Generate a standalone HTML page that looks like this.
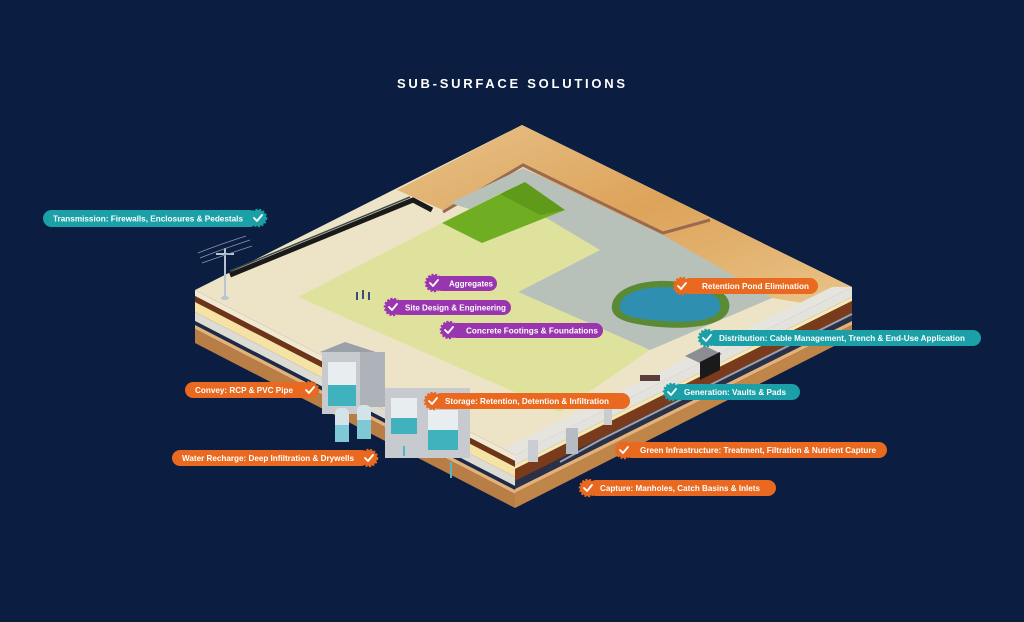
<!DOCTYPE html>
<html><head><meta charset="utf-8"><style>
html,body{margin:0;padding:0;background:#0b1d40;}
svg{display:block}
text{font-family:"Liberation Sans",Arial,sans-serif;font-weight:bold;fill:#fff}
</style></head><body>
<svg width="1024" height="622" viewBox="0 0 1024 622" xmlns="http://www.w3.org/2000/svg">
<defs>
<linearGradient id="tan" x1="0" y1="0" x2="1" y2="1">
<stop offset="0" stop-color="#e7c28a"/><stop offset="0.5" stop-color="#dda35a"/><stop offset="1" stop-color="#e9c489"/>
</linearGradient>
</defs>
<rect width="1024" height="622" fill="#0b1d40"/>
<text x="512" y="88" text-anchor="middle" font-size="13" letter-spacing="2" fill="#e8ecf4" textLength="230" lengthAdjust="spacing">SUB-SURFACE SOLUTIONS</text>

<!-- left face bands -->
<g>
<polygon points="195,290 515,455 515,461 195,296" fill="#f0e8d0"/>
<polygon points="195,296 515,461 515,467 195,302" fill="#6d3418"/>
<polygon points="195,302 515,467 515,477 195,312" fill="#f5e2a4"/>
<polygon points="195,312 515,477 515,486 195,321" fill="#dcdcd4"/>
<polygon points="195,321 515,486 515,490 195,325" fill="#1c2a48"/>
<polygon points="195,325 515,490 515,494 195,329" fill="#e2b27a"/>
<polygon points="195,329 515,494 515,508 195,343" fill="#b97e45"/>
</g>
<!-- right face bands -->
<g>
<polygon points="515,455 852,287 852,297 515,465" fill="#e4e2dc"/>
<polygon points="515,465 852,297 852,301 515,469" fill="#f6e8b0"/>
<polygon points="515,469 852,301 852,313 515,481" fill="#7a3b1d"/>
<polygon points="515,481 852,313 852,321 515,489" fill="#2a3048"/>
<polygon points="515,489 852,321 852,325 515,493" fill="#e2b27a"/>
<polygon points="515,493 852,325 852,337 515,508" fill="#c08548"/>
</g>
<polyline points="560,462 600,440 640,420 700,390 760,360 852,314" fill="none" stroke="#9aa3ad" stroke-width="2"/>

<!-- top surface -->
<polygon points="195,290 522,125 852,287 515,455" fill="#ede4c8"/>
<polygon points="397,190 522,125 852,287 815,305 772,298 523,167 443,210" fill="url(#tan)"/>
<!-- sidewalk strip right -->
<polygon points="515,455 852,287 832,287 505,448" fill="#e6e4de"/>
<!-- inner rim -->
<polyline points="443,212 523,165 663,233 710,220" fill="none" stroke="#9a6a50" stroke-width="3"/>
<!-- gray region -->
<polygon points="450,203 523,168 663,235 772,298 650,350 518,292 600,250" fill="#b7c1b9"/>
<!-- yellow -->
<polygon points="298,297 442,223 503,192 600,250 518,292 650,350 560,412" fill="#dfe29d"/>
<!-- green -->
<polygon points="442,223 500,194 565,210 482,243" fill="#6fae22"/>
<polygon points="500,194 525,182 565,210 540,215" fill="#5f9a1a"/>
<!-- pond -->
<path d="M612,305 C615,285 650,278 680,282 C715,283 735,295 728,312 C720,328 680,330 650,326 C625,323 610,318 612,305Z" fill="#5a8a36"/>
<path d="M620,305 C622,290 652,285 680,288 C710,289 725,298 719,311 C712,323 680,323 652,320 C630,318 618,314 620,305Z" fill="#2f8fb0"/>
<!-- conduit -->
<polyline points="230,275 413,200 432,210" fill="none" stroke="#1a1a1a" stroke-width="5"/>
<polyline points="230,271 410,197" fill="none" stroke="#3b4b48" stroke-width="1.5"/>
<!-- power pole -->
<line x1="225" y1="248" x2="225" y2="298" stroke="#b9c4d2" stroke-width="2"/>
<line x1="216" y1="254" x2="234" y2="254" stroke="#b9c4d2" stroke-width="2"/>
<path d="M200,258 Q220,250 250,240 M202,263 Q222,256 252,246 M198,253 Q218,245 246,236" stroke="#8897b0" stroke-width="0.8" fill="none"/>
<ellipse cx="225" cy="298" rx="4" ry="2" fill="#b9c4d2"/>
<g fill="#3b4f7a"><rect x="356" y="292" width="2" height="8"/><rect x="362" y="290" width="2" height="9"/><rect x="368" y="292" width="2" height="8"/></g>
<!-- generation objects -->
<polygon points="685,356 705,346 722,354 702,364" fill="#8a8d92"/>
<polygon points="700,362 720,352 720,370 700,380" fill="#1a1a1a"/>
<rect x="640" y="375" width="20" height="6" fill="#5a3e3a"/>

<!-- storage vaults -->
<g>
<polygon points="320,352 345,342 385,355 360,365" fill="#9aa0a8"/>
<rect x="322" y="352" width="38" height="62" fill="#c7cbd0"/>
<rect x="360" y="352" width="25" height="55" fill="#aeb3ba"/>
<rect x="328" y="362" width="28" height="44" fill="#e8edf0"/>
<rect x="328" y="385" width="28" height="21" fill="#3fb2bd"/>
<rect x="385" y="388" width="85" height="70" fill="#c7cbd0"/>
<rect x="391" y="398" width="26" height="36" fill="#e8edf0"/>
<rect x="391" y="418" width="26" height="16" fill="#3fb2bd"/>
<rect x="428" y="410" width="30" height="40" fill="#e8edf0"/>
<rect x="428" y="430" width="30" height="20" fill="#3fb2bd"/>
<rect x="335" y="408" width="14" height="34" rx="5" fill="#d4e2ea"/>
<rect x="335" y="425" width="14" height="17" fill="#7fc9d6"/>
<rect x="357" y="405" width="14" height="34" rx="5" fill="#d4e2ea"/>
<rect x="357" y="420" width="14" height="19" fill="#7fc9d6"/>
<line x1="404" y1="446" x2="404" y2="456" stroke="#4fb7c8" stroke-width="2"/>
<line x1="451" y1="462" x2="451" y2="478" stroke="#4fb7c8" stroke-width="2"/>
</g>
<rect x="528" y="440" width="10" height="22" fill="#c9cdd2"/>
<rect x="566" y="428" width="12" height="26" fill="#b6bcc4"/>
<rect x="604" y="405" width="8" height="20" fill="#c9cdd2"/>

<!-- labels -->
<g font-size="8.5" lengthAdjust="spacingAndGlyphs">
<rect x="43" y="210" width="215" height="17" rx="8.5" fill="#1ba0a8"/>
<text x="53" y="221.5" textLength="190" lengthAdjust="spacingAndGlyphs">Transmission: Firewalls, Enclosures &amp; Pedestals</text>
<rect x="707" y="330" width="274" height="16" rx="8" fill="#1ba0a8"/>
<text x="719" y="341" textLength="246" lengthAdjust="spacingAndGlyphs">Distribution: Cable Management, Trench &amp; End-Use Application</text>
<rect x="672" y="384" width="128" height="16" rx="8" fill="#1ba0a8"/>
<text x="684" y="395" textLength="102" lengthAdjust="spacingAndGlyphs">Generation: Vaults &amp; Pads</text>
<rect x="434" y="276" width="63" height="15" rx="7.5" fill="#9a35b0"/>
<text x="449" y="286.5" textLength="44" lengthAdjust="spacingAndGlyphs">Aggregates</text>
<rect x="393" y="300" width="118" height="15" rx="7.5" fill="#9a35b0"/>
<text x="405" y="310.5" textLength="101" lengthAdjust="spacingAndGlyphs">Site Design &amp; Engineering</text>
<rect x="449" y="323" width="154" height="15" rx="7.5" fill="#9a35b0"/>
<text x="466" y="333.5" textLength="132" lengthAdjust="spacingAndGlyphs">Concrete Footings &amp; Foundations</text>
<rect x="682" y="278" width="136" height="16" rx="8" fill="#e8691f"/>
<text x="702" y="289" textLength="107" lengthAdjust="spacingAndGlyphs">Retention Pond Elimination</text>
<rect x="185" y="382" width="125" height="16" rx="8" fill="#e8691f"/>
<text x="195" y="393" textLength="98" lengthAdjust="spacingAndGlyphs">Convey: RCP &amp; PVC Pipe</text>
<rect x="433" y="393" width="197" height="16" rx="8" fill="#e8691f"/>
<text x="445" y="404" textLength="164" lengthAdjust="spacingAndGlyphs">Storage: Retention, Detention &amp; Infiltration</text>
<rect x="172" y="450" width="197" height="16" rx="8" fill="#e8691f"/>
<text x="182" y="461" textLength="172" lengthAdjust="spacingAndGlyphs">Water Recharge: Deep Infiltration &amp; Drywells</text>
<rect x="624" y="442" width="263" height="16" rx="8" fill="#e8691f"/>
<text x="640" y="453" textLength="236" lengthAdjust="spacingAndGlyphs">Green Infrastructure: Treatment, Filtration &amp; Nutrient Capture</text>
<rect x="588" y="480" width="188" height="16" rx="8" fill="#e8691f"/>
<text x="600" y="491" textLength="160" lengthAdjust="spacingAndGlyphs">Capture: Manholes, Catch Basins &amp; Inlets</text>
</g>
<!-- badges -->
<g stroke-linejoin="round">
<g fill="#1ba0a8" stroke="#1ba0a8" stroke-width="2.5" stroke-dasharray="2 1.5">
<circle cx="258" cy="218" r="8"/><circle cx="707" cy="338" r="8"/><circle cx="672" cy="392" r="8"/>
</g>
<g fill="#9a35b0" stroke="#9a35b0" stroke-width="2.5" stroke-dasharray="2 1.5">
<circle cx="434" cy="283" r="8"/><circle cx="393" cy="307" r="8"/><circle cx="449" cy="330" r="8"/>
</g>
<g fill="#e8691f" stroke="#e8691f" stroke-width="2.5" stroke-dasharray="2 1.5">
<circle cx="682" cy="286" r="8"/><circle cx="310" cy="390" r="8"/><circle cx="433" cy="401" r="8"/>
<circle cx="369" cy="458" r="8"/><circle cx="624" cy="450" r="8"/><circle cx="588" cy="488" r="8"/>
</g>
<g fill="none" stroke="#fff" stroke-width="1.8" stroke-linecap="round">
<path d="M254,218 l3,3 l5,-6"/><path d="M703,338 l3,3 l5,-6"/><path d="M668,392 l3,3 l5,-6"/>
<path d="M430,283 l3,3 l5,-6"/><path d="M389,307 l3,3 l5,-6"/><path d="M445,330 l3,3 l5,-6"/>
<path d="M678,286 l3,3 l5,-6"/><path d="M306,390 l3,3 l5,-6"/><path d="M429,401 l3,3 l5,-6"/>
<path d="M365,458 l3,3 l5,-6"/><path d="M620,450 l3,3 l5,-6"/><path d="M584,488 l3,3 l5,-6"/>
</g>
</g>
</svg>
</body></html>
